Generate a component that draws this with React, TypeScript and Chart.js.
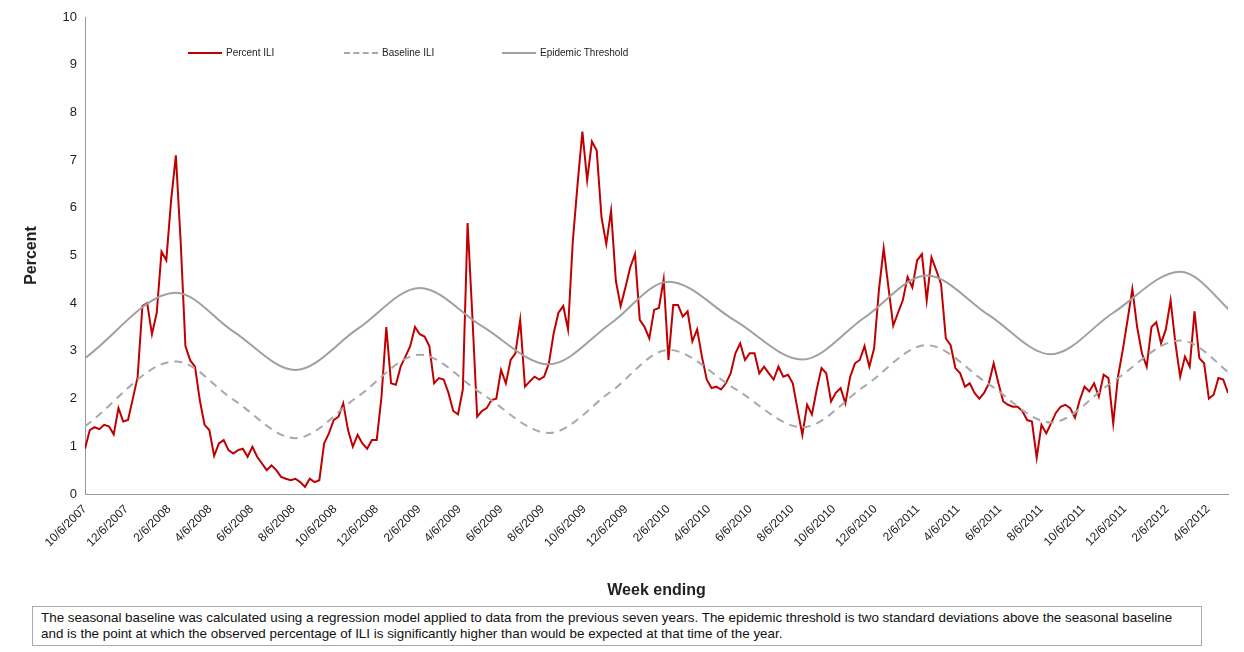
import * as React from "react";
import { useEffect, useRef } from "react";
import { Chart, registerables } from "chart.js";

// weekly Percent ILI, first week ending 10/6/2007
const percentIli: number[] = [
  0.95, 1.34, 1.4, 1.36, 1.45, 1.42, 1.25, 1.8, 1.52, 1.55, 2.0, 2.45, 3.94, 4.0, 3.35, 3.8, 5.08, 4.9, 6.15, 7.1,
  5.3, 3.1, 2.8, 2.67, 1.97, 1.45, 1.34, 0.8, 1.06, 1.13, 0.92, 0.85, 0.92, 0.95, 0.78, 0.99, 0.78, 0.64, 0.5, 0.6,
  0.5, 0.36, 0.32, 0.29, 0.32, 0.25, 0.15, 0.32, 0.25, 0.29, 1.06, 1.27, 1.55, 1.62, 1.9, 1.34, 0.99, 1.24, 1.06, 0.95,
  1.13, 1.13, 2.04, 3.5, 2.32, 2.29, 2.67, 2.88, 3.1, 3.5, 3.35, 3.3, 3.1, 2.32, 2.43, 2.4, 2.12, 1.74, 1.67, 2.19,
  5.68, 3.72, 1.62, 1.74, 1.8, 1.97, 2.0, 2.6, 2.32, 2.81, 2.95, 3.65, 2.25, 2.36, 2.46, 2.4, 2.46, 2.74, 3.37, 3.8,
  3.94, 3.45, 5.3, 6.5, 7.6, 6.58, 7.39, 7.2, 5.8, 5.24, 5.94, 4.47, 3.94, 4.33, 4.75, 5.03, 3.65, 3.5, 3.26, 3.86,
  3.9, 4.5, 2.81, 3.96, 3.96, 3.72, 3.83, 3.2, 3.45, 2.88, 2.4, 2.22, 2.25, 2.19, 2.32, 2.53, 2.95, 3.16, 2.81, 2.95,
  2.95, 2.53, 2.67, 2.53, 2.4, 2.67, 2.46, 2.5, 2.32, 1.77, 1.24, 1.87, 1.67, 2.19, 2.64, 2.53, 1.94, 2.12, 2.22, 1.9,
  2.46, 2.74, 2.81, 3.1, 2.67, 3.05, 4.27, 5.15, 4.33, 3.53, 3.8, 4.06, 4.55, 4.33, 4.9, 5.03, 4.06, 4.96, 4.69, 4.4,
  3.26, 3.12, 2.64, 2.53, 2.25, 2.32, 2.12, 2.0, 2.12, 2.32, 2.74, 2.32, 1.94, 1.87, 1.83, 1.83, 1.74, 1.55, 1.52, 0.76,
  1.45, 1.27, 1.48, 1.7, 1.83, 1.87, 1.8, 1.6, 1.97, 2.25, 2.15, 2.32, 2.04, 2.5, 2.43, 1.48, 2.46, 3.02, 3.65, 4.3,
  3.5, 2.95, 2.67, 3.5, 3.6, 3.16, 3.45, 4.06, 3.16, 2.46, 2.88, 2.67, 3.83, 2.85, 2.74, 2.0, 2.08, 2.43, 2.4, 2.12,
];

// seasonal curves read at peaks, troughs and half-way points (week index)
const curveWeeks: number[] = [0, 19, 31, 44, 57, 70, 83, 97, 110, 122, 136, 150, 163, 176, 189, 202, 215, 229, 241];
const baselineIli: number[] = [1.42, 2.78, 1.98, 1.17, 2.04, 2.92, 2.1, 1.28, 2.15, 3.02, 2.2, 1.4, 2.26, 3.12, 2.3, 1.5, 2.36, 3.22, 2.4];
const epidemicThreshold: number[] = [2.85, 4.22, 3.41, 2.6, 3.46, 4.32, 3.52, 2.72, 3.58, 4.45, 3.63, 2.82, 3.7, 4.58, 3.75, 2.93, 3.8, 4.66, 3.7];

const startDate = [2007, 10, 6];
const tickLabels: string[] = [
  "10/6/2007", "12/6/2007", "2/6/2008", "4/6/2008", "6/6/2008", "8/6/2008", "10/6/2008", "12/6/2008",
  "2/6/2009", "4/6/2009", "6/6/2009", "8/6/2009", "10/6/2009", "12/6/2009", "2/6/2010", "4/6/2010",
  "6/6/2010", "8/6/2010", "10/6/2010", "12/6/2010", "2/6/2011", "4/6/2011", "6/6/2011", "8/6/2011",
  "10/6/2011", "12/6/2011", "2/6/2012", "4/6/2012",
];

const footnote =
  "The seasonal baseline was calculated using a regression model applied to data from the previous seven years.  The epidemic threshold is two standard deviations above the seasonal baseline and is the point at which the observed percentage of ILI is significantly higher than would be expected at that time of the year.";

function weeksFromStart(label: string): number {
  const [m, d, y] = label.split("/").map(Number);
  const a = Date.UTC(startDate[0], startDate[1] - 1, startDate[2]);
  const b = Date.UTC(y, m - 1, d);
  return Math.round((b - a) / 86400000) / 7;
}

const FONT = "'Liberation Sans', Arial, sans-serif";

function App() {
  const canvasRef = useRef<HTMLCanvasElement>(null);
  useEffect(() => {
    document.body.style.margin = "0";
    Chart.register(...registerables);
    const ctx = canvasRef.current!.getContext("2d")!;
    const tickWeeks = tickLabels.map(weeksFromStart);
    const chart = new Chart(ctx, {
      type: "line",
      data: {
        datasets: [
          {
            label: "Epidemic Threshold",
            data: curveWeeks.map((w, i) => ({ x: w, y: epidemicThreshold[i] })),
            borderColor: "#a0a0a0",
            borderWidth: 2,
            pointRadius: 0,
            cubicInterpolationMode: "monotone",
          },
          {
            label: "Baseline ILI",
            data: curveWeeks.map((w, i) => ({ x: w, y: baselineIli[i] })),
            borderColor: "#a8a8a8",
            borderWidth: 2,
            borderDash: [8, 6],
            pointRadius: 0,
            cubicInterpolationMode: "monotone",
          },
          {
            label: "Percent ILI",
            data: percentIli.map((v, i) => ({ x: i, y: v })),
            borderColor: "#c00000",
            borderWidth: 2,
            pointRadius: 0,
            tension: 0,
          },
        ],
      },
      options: {
        animation: false,
        responsive: false,
        layout: { padding: { top: 17, right: 16, left: 18 } },
        plugins: { legend: { display: false }, tooltip: { enabled: false } },
        scales: {
          x: {
            type: "linear",
            min: 0,
            max: percentIli.length - 1,
            grid: { display: false, drawTicks: true, tickLength: 5 },
            border: { color: "#999" },
            afterBuildTicks: (s: any) => {
              s.ticks = tickWeeks.map((v) => ({ value: v }));
            },
            afterFit: (s: any) => {
              s.height = 106;
            },
            ticks: {
              autoSkip: false,
              minRotation: 45,
              maxRotation: 45,
              color: "#222",
              font: { family: FONT, size: 12 },
              callback: (_v: any, i: number) => tickLabels[i],
            },
            title: {
              display: true,
              text: "Week ending",
              color: "#222",
              font: { family: FONT, size: 16, weight: "bold" },
              padding: { top: -12, bottom: 0 },
            },
          },
          y: {
            min: 0,
            max: 10,
            grid: { display: false, drawTicks: true, tickLength: 5 },
            border: { color: "#999" },
            afterFit: (s: any) => {
              s.width = 67;
            },
            ticks: { stepSize: 1, color: "#222", font: { family: FONT, size: 13 } },
            title: {
              display: true,
              text: "Percent",
              color: "#222",
              font: { family: FONT, size: 16, weight: "bold" },
            },
          },
        },
      },
    });
    return () => chart.destroy();
  }, []);

  const legendItem = (left: number, label: string, color: string, dashed: boolean) => (
    <div style={{ position: "absolute", left, top: 47, display: "flex", alignItems: "center", fontFamily: FONT, fontSize: 10, color: "#222" }}>
      <span style={{ display: "inline-block", width: 34, borderTop: `2px ${dashed ? "dashed" : "solid"} ${color}`, marginRight: 4 }} />
      {label}
    </div>
  );

  return (
    <div style={{ position: "relative", width: 1244, height: 652, background: "#fff" }}>
      <canvas ref={canvasRef} width={1244} height={600} style={{ display: "block" }}></canvas>
      {legendItem(188, "Percent ILI", "#c00000", false)}
      {legendItem(344, "Baseline ILI", "#a8a8a8", true)}
      {legendItem(502, "Epidemic Threshold", "#a0a0a0", false)}
      <div
        style={{
          position: "absolute",
          left: 32,
          top: 606,
          width: 1152,
          border: "1px solid #aaa",
          padding: "3px 8px",
          fontFamily: FONT,
          fontSize: 13.4,
          lineHeight: "16px",
          color: "#111",
        }}
      >
        {footnote}
      </div>
    </div>
  );
}

export default App;
